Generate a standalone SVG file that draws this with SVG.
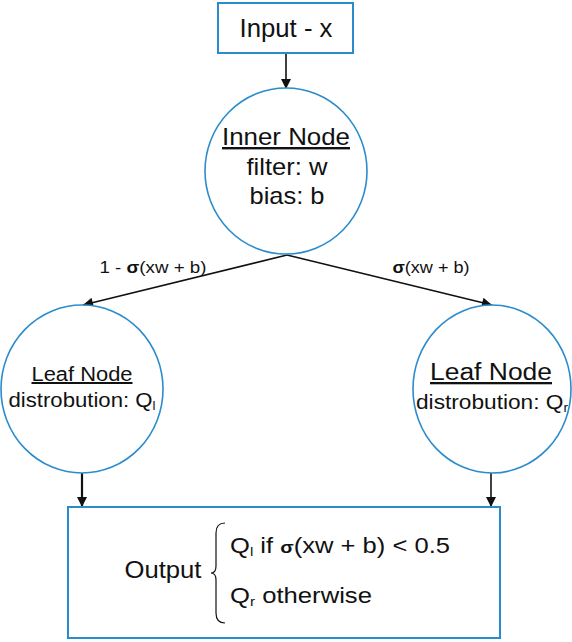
<svg xmlns="http://www.w3.org/2000/svg" width="572" height="642" viewBox="0 0 572 642">
<style>
.box{fill:#fff;stroke:#2a8ccc;stroke-width:2}
.circ{fill:#fff;stroke:#2a8ccc;stroke-width:1.6}
.t{font-family:"Liberation Sans",Arial,sans-serif;fill:#111;text-anchor:middle}
.l{font-family:"Liberation Sans",Arial,sans-serif;fill:#111}
.e{stroke:#111;stroke-width:1.6;fill:none;marker-end:url(#ah)}
.e2{stroke:#111;stroke-width:2.2;fill:none;marker-end:url(#ah)}
</style>
<defs>
<marker id="ah" viewBox="0 0 10 10" refX="10" refY="5" markerWidth="11" markerHeight="10" markerUnits="userSpaceOnUse" orient="auto"><path d="M0,0 L10,5 L0,10 z" fill="#111"/></marker>
</defs>
<g id="connectors">
<line class="e" x1="286" y1="53" x2="286" y2="89"/>
<line class="e" x1="287" y1="255" x2="83" y2="305"/>
<line class="e" x1="287" y1="255" x2="492" y2="305"/>
<line class="e2" x1="82" y1="473" x2="82" y2="507"/>
<line class="e" x1="491" y1="473" x2="491" y2="507"/>
<text class="t" x="153" y="273" font-size="16" textLength="107" lengthAdjust="spacingAndGlyphs">1 - <tspan font-weight="bold">σ</tspan>(xw + b)</text>
<text class="t" x="431" y="273" font-size="16" textLength="77" lengthAdjust="spacingAndGlyphs"><tspan font-weight="bold">σ</tspan>(xw + b)</text>
</g>
<g id="input">
<rect class="box" x="218" y="3" width="135" height="50"/>
<text class="t" x="286" y="37" font-size="25" textLength="93" lengthAdjust="spacingAndGlyphs">Input - x</text>
</g>
<g id="inner">
<ellipse class="circ" cx="286" cy="171" rx="81" ry="83"/>
<text class="t" x="286" y="145" font-size="24" text-decoration="underline" textLength="128" lengthAdjust="spacingAndGlyphs">Inner Node</text>
<text class="t" x="287" y="175" font-size="24" textLength="81" lengthAdjust="spacingAndGlyphs">filter: w</text>
<text class="t" x="287" y="204" font-size="24" textLength="75" lengthAdjust="spacingAndGlyphs">bias: b</text>
</g>
<g id="leafL">
<ellipse class="circ" cx="82" cy="389" rx="81" ry="84"/>
<text class="t" x="82" y="381" font-size="20" text-decoration="underline" textLength="101" lengthAdjust="spacingAndGlyphs">Leaf Node</text>
<text class="t" x="82" y="407" font-size="20" textLength="147" lengthAdjust="spacingAndGlyphs">distrobution: Q<tspan font-size="12" dy="3">l</tspan></text>
</g>
<g id="leafR">
<ellipse class="circ" cx="492" cy="389" rx="79" ry="84"/>
<text class="t" x="491" y="380" font-size="23" text-decoration="underline" textLength="122" lengthAdjust="spacingAndGlyphs">Leaf Node</text>
<text class="t" x="492" y="409" font-size="20" textLength="152" lengthAdjust="spacingAndGlyphs">distrobution: Q<tspan font-size="12" dy="3">r</tspan></text>
</g>
<g id="output">
<rect class="box" x="68" y="507" width="432" height="131"/>
<text class="t" x="163" y="578" font-size="23" textLength="77" lengthAdjust="spacingAndGlyphs">Output</text>
<path d="M225,523 Q216,523 216,533 L216,566 Q216,573 211,573 Q216,573 216,580 L216,613 Q216,623 225,623" fill="none" stroke="#111" stroke-width="1.2"/>
<text class="l" font-size="22" x="230" y="553" textLength="220" lengthAdjust="spacingAndGlyphs">Q<tspan font-size="13" dy="3">l</tspan><tspan dy="-3"> if </tspan><tspan font-weight="bold" font-size="17">σ</tspan>(xw + b) &lt; 0.5</text>
<text class="l" font-size="22" x="230" y="603" textLength="142" lengthAdjust="spacingAndGlyphs">Q<tspan font-size="13" dy="3">r</tspan><tspan dy="-3"> otherwise</tspan></text>
</g>
</svg>
